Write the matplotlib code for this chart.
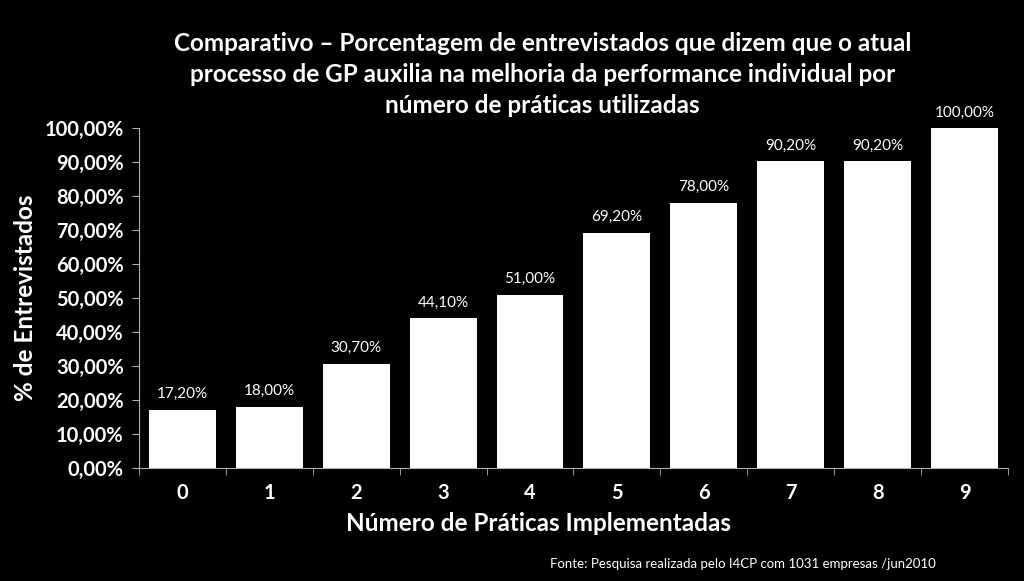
#Comparativo de performance individual por numero de praticas
import matplotlib.pyplot as plt
import numpy as np

plt.rcParams['font.family'] = ['Lato', 'DejaVu Sans']

praticas = ['0', '1', '2', '3', '4', '5', '6', '7', '8', '9']
porcentagem = [17.2, 18.0, 30.7, 44.1, 51.0, 69.2, 78.0, 90.2, 90.2, 100.0]
y_ticks = np.arange(0, 101, 10)

fig = plt.figure(figsize=(10.24, 5.81), dpi=100, facecolor='black')
ax = fig.add_axes([0.1357, 0.1945, 0.8486, 0.5852])
ax.set_facecolor('black')

x = np.arange(len(praticas))
ax.bar(x, porcentagem, width=0.77, color='white')

#rotulos em cima das barras
for xi, v in zip(x, porcentagem):
    ax.text(xi, v + 2.5, f'{v:.2f}%'.replace('.', ','), ha='center', va='bottom',
            color='white', fontsize=11)

ax.set_xlim(-0.5, len(praticas) - 0.5)
ax.set_ylim(0, 100)
ax.set_yticks(y_ticks)
ax.set_yticklabels([f'{t:.2f}%'.replace('.', ',') for t in y_ticks],
                   color='white', fontsize=14.5, fontweight='bold')
ax.set_xticks(x)
ax.set_xticklabels(praticas, color='white', fontsize=14.5, fontweight='bold')
ax.tick_params(axis='x', length=0, pad=11)
ax.set_xticks(np.arange(-0.5, len(praticas)), minor=True)
ax.tick_params(axis='x', which='minor', length=5, color='#b0b0b0')
ax.tick_params(axis='y', length=5, color='#b0b0b0', pad=6)

for s in ['top', 'right']:
    ax.spines[s].set_visible(False)
for s in ['left', 'bottom']:
    ax.spines[s].set_color('#b0b0b0')

ax.set_xlabel('Número de Práticas Implementadas', color='white', fontsize=17.5,
              fontweight='bold', labelpad=0)
ax.xaxis.set_label_coords(0.46, -0.13)
ax.set_ylabel('% de Entrevistados', color='white', fontsize=17.5,
              fontweight='bold', labelpad=5)

fig.text(0.53, 0.945, 'Comparativo – Porcentagem de entrevistados que dizem que o atual\n'
         'processo de GP auxilia na melhoria da performance individual por\n'
         'número de práticas utilizadas', ha='center', va='top', color='white',
         fontsize=17.5, fontweight='bold', linespacing=1.42)

fig.text(0.725, 0.03, 'Fonte: Pesquisa realizada pelo I4CP com 1031 empresas /jun2010',
         ha='center', va='center', color='white', fontsize=9.5)

fig.savefig('out.png', dpi=100, facecolor='black')
